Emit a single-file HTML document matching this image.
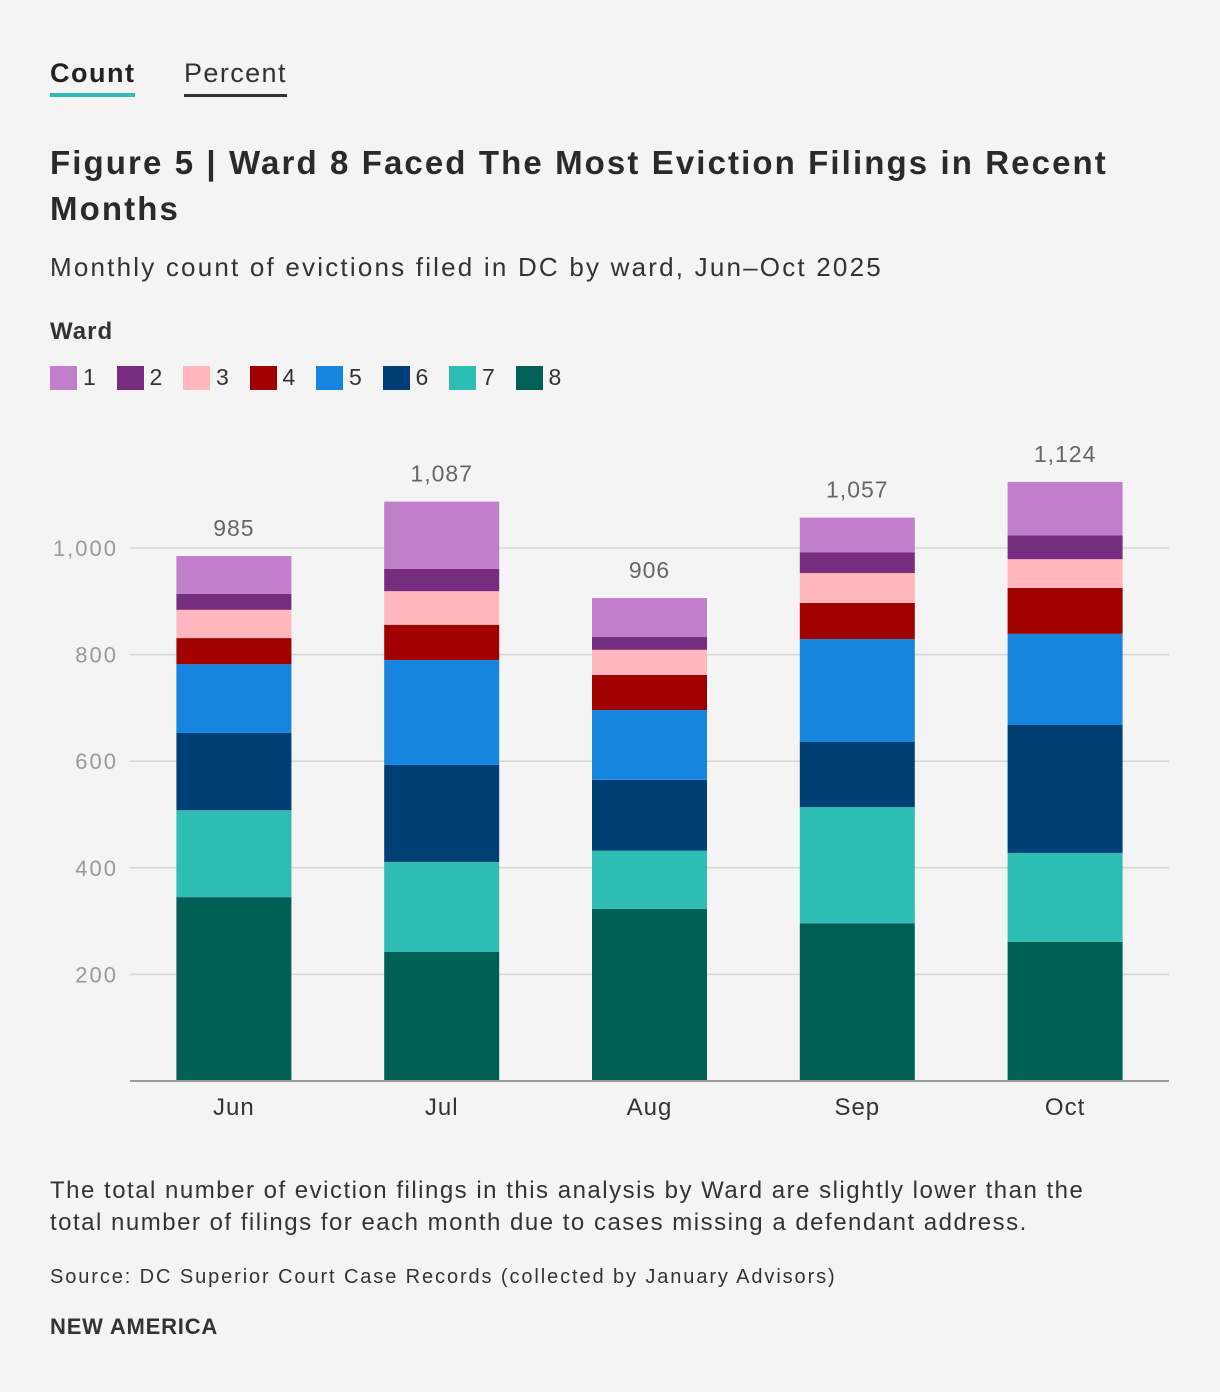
<!DOCTYPE html>
<html><head><meta charset="utf-8">
<style>
body{margin:0;background:#f4f4f4;font-family:"Liberation Sans",sans-serif;color:#333;}
#wrap{position:relative;width:1220px;height:1392px;}
.abs{position:absolute;}
</style></head>
<body>
<div id="wrap">
  <div class="abs" style="left:50px;top:58px;font-size:27px;font-weight:bold;color:#222;letter-spacing:1.5px;border-bottom:4px solid #2ebdb2;padding-bottom:4px;">Count</div>
  <div class="abs" style="left:184px;top:58px;font-size:27px;color:#333;letter-spacing:1.4px;border-bottom:3px solid #333;padding-bottom:5px;">Percent</div>
  <div class="abs" style="left:50px;top:140px;width:1100px;font-size:33px;font-weight:bold;line-height:46px;letter-spacing:2.1px;color:#2a2a2a;">Figure 5 | Ward 8 Faced The Most Eviction Filings in Recent Months</div>
  <div class="abs" style="left:50px;top:252px;font-size:26px;letter-spacing:2.2px;color:#333;">Monthly count of evictions filed in DC by ward, Jun–Oct 2025</div>
  <div class="abs" style="left:50px;top:318px;font-size:24px;font-weight:bold;letter-spacing:1px;color:#333;">Ward</div>
  <div class="abs" id="legend" style="left:50px;top:364px;height:28px;"></div>
  <svg class="abs" id="chart" style="left:0;top:0" width="1220" height="1150"></svg>
  <div class="abs" style="left:50px;top:1175px;width:1085px;font-size:24px;line-height:32px;letter-spacing:1.5px;color:#333;">The total number of eviction filings in this analysis by Ward are slightly lower than the total number of filings for each month due to cases missing a defendant address.</div>
  <div class="abs" style="left:50px;top:1266px;font-size:20px;letter-spacing:1.9px;color:#333;">Source: DC Superior Court Case Records (collected by January Advisors)</div>
  <div class="abs" style="left:50px;top:1314px;font-size:22px;font-weight:bold;letter-spacing:0.8px;color:#333;">NEW AMERICA</div>
</div>
<script>
const categories=["Jun","Jul","Aug","Sep","Oct"];
const wards=["1","2","3","4","5","6","7","8"];
const ward8=[345,242,323,296,261];
const ward7=[163,169,109,218,167];
const ward6=[145,182,133,122,240];
const ward5=[129,197,131,193,171];
const ward4=[49,66,66,68,86];
const ward3=[53,63,47,56,54];
const ward2=[30,42,24,39,45];
const ward1=[71,126,73,65,100];
const totals=[985,1087,906,1057,1124];
const yTicks=[200,400,600,800,1000];
const colors={"1":"#c17fcb","2":"#762d80","3":"#ffb6bc","4":"#a00000","5":"#1585e0","6":"#003f75","7":"#2ebdb2","8":"#005f57"};
const series=[["8",ward8],["7",ward7],["6",ward6],["5",ward5],["4",ward4],["3",ward3],["2",ward2],["1",ward1]];
const NS="http://www.w3.org/2000/svg";
const svg=document.getElementById('chart');
const x0=130,x1=1169,y0=1081,yPer=0.533;
const band=(x1-x0)/categories.length,barW=115;
function y(v){return y0-v*yPer;}
function xc(i){return x0+band*(i+0.5);}
function mk(t,a){const e=document.createElementNS(NS,t);for(const k in a)e.setAttribute(k,a[k]);svg.appendChild(e);return e;}
yTicks.forEach(t=>{
  const g=mk('line',{x1:x0,x2:x1,y1:y(t),y2:y(t),stroke:'#d6d6d6','stroke-width':1.5});
  
  
  const l=mk('text',{x:118,y:y(t)+8,'text-anchor':'end','font-size':22,'letter-spacing':2,fill:'#999','font-family':'Liberation Sans, sans-serif'});
  l.textContent=t.toLocaleString('en-US');
  
  
});
categories.forEach((c,i)=>{
  let acc=0;
  series.forEach(([w,vals])=>{
    const v=vals[i];
    const r=mk('rect',{x:xc(i)-barW/2,y:y(acc+v),width:barW,height:v*yPer,fill:colors[w]});
    
    
    acc+=v;
  });
  const tl=mk('text',{x:xc(i),y:y(totals[i])-20,'text-anchor':'middle','font-size':23,'letter-spacing':1,fill:'#666','font-family':'Liberation Sans, sans-serif'});
  tl.textContent=totals[i].toLocaleString('en-US');
  
  
  const xl=mk('text',{x:xc(i),y:1115,'text-anchor':'middle','font-size':24,'letter-spacing':1,fill:'#333','font-family':'Liberation Sans, sans-serif'});
  xl.textContent=c;
  
  
});
const ax=mk('line',{x1:x0,x2:x1,y1:y0,y2:y0,stroke:'#999','stroke-width':2});


const lg=document.getElementById('legend');
wards.forEach((w,i)=>{
  const d=document.createElement('div');
  
  
  d.style.cssText='position:absolute;top:0;left:'+(i*66.5)+'px;display:flex;align-items:center;font-size:23px;color:#333;white-space:nowrap;';
  d.innerHTML='<span style="display:inline-block;width:27px;height:24px;background:'+colors[w]+';margin-right:6px"></span>'+w;
  lg.appendChild(d);
});
</script>
</body></html>
